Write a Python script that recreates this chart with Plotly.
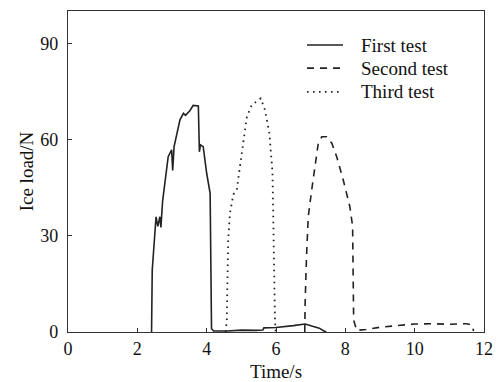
import plotly.graph_objects as go

# Data
first_t = [2.41, 2.43, 2.54, 2.59, 2.65, 2.68, 2.73, 2.85, 2.89, 2.99, 3.02, 3.06, 3.13, 3.23,
           3.33, 3.39, 3.52, 3.61, 3.76, 3.79, 3.82, 3.90, 4.00, 4.10, 4.14, 4.20, 4.60, 5.00,
           5.40, 5.62, 5.65, 6.00, 6.50, 6.84, 7.08, 7.25, 7.37, 7.45]
first_v = [0, 19.4, 36, 33, 36, 32.7, 41, 50.6, 54.8, 56.9, 50.5, 57.9, 61, 66.3,
           68.3, 67.7, 69.2, 70.8, 70.6, 56.3, 58.5, 57.9, 49.6, 43.3, 1.0, 0.3, 0.3, 0.6,
           0.5, 0.6, 1.3, 1.4, 2.0, 2.5, 1.7, 1.2, 0.4, 0]

second_t = [6.83, 6.84, 6.88, 6.93, 7.03, 7.12, 7.22, 7.32, 7.46, 7.61, 7.75, 7.94, 8.13,
            8.21, 8.22, 8.24, 8.33, 8.60, 9.00, 9.50, 10.00, 10.50, 11.00, 11.50, 11.65, 11.70]
second_v = [0, 9, 23.5, 36, 44.4, 51.7, 59, 61, 61, 59, 54.8, 47.5, 39.2,
            33, 21, 3.7, 0.5, 0.8, 1.5, 2.0, 2.5, 2.6, 2.4, 2.6, 2.2, 0.3]

third_t = [4.55, 4.58, 4.62, 4.67, 4.77, 4.87, 4.96, 5.06, 5.16, 5.30, 5.45, 5.56, 5.68,
           5.81, 5.90, 5.92, 5.94, 5.97, 5.99]
third_v = [0, 3.7, 28.7, 37, 43, 44.4, 51.7, 59, 67.3, 70.9, 72, 73, 69.4,
           62.1, 49.6, 34, 18.8, 3.7, 0]

series_names = ["First test", "Second test", "Third test"]
x_ticks = [0, 2, 4, 6, 8, 10, 12]
y_ticks = [0, 30, 60, 90]

ink = "#222222"
font_family = "Liberation Serif, Times New Roman, serif"
dashes = ["solid", "7px,6px", "1.6px,4.4px"]
widths = [1.6, 1.6, 1.8]

fig = go.Figure()
for t, v, name, dash, w in zip([first_t, second_t, third_t], [first_v, second_v, third_v],
                               series_names, dashes, widths):
    fig.add_trace(go.Scatter(x=t, y=v, mode="lines", name=name, showlegend=False,
                             line=dict(color=ink, width=w, dash=dash)))

# Hand-drawn legend (tighter row spacing than plotly's built-in legend)
legend_rows_y = [0.894, 0.822, 0.748]
for name, dash, w, ly in zip(series_names, dashes, widths, legend_rows_y):
    fig.add_shape(type="line", xref="paper", yref="paper", x0=0.5745, x1=0.661, y0=ly, y1=ly,
                  line=dict(color=ink, width=w, dash=dash))
    fig.add_annotation(xref="paper", yref="paper", x=0.700, y=ly, text=name, showarrow=False,
                       xanchor="left", yanchor="middle",
                       font=dict(family=font_family, size=19, color="#111111"))

axis_common = dict(showline=True, mirror=True, linecolor="#333333", linewidth=1.3,
                   ticks="inside", ticklen=4, tickwidth=1.2, tickcolor="#333333",
                   showgrid=False, zeroline=False, automargin=False,
                   tickfont=dict(family=font_family, size=18, color="#111111"))

fig.update_layout(
    width=496, height=382,
    margin=dict(l=68, r=12, t=11, b=50),
    paper_bgcolor="white", plot_bgcolor="white",
    font=dict(family=font_family, size=18, color="#111111"),
    showlegend=False,
    xaxis=dict(range=[0, 12], tickvals=x_ticks, ticktext=[str(v) for v in x_ticks],
               title=dict(text="Time/s", standoff=6,
                          font=dict(family=font_family, size=19, color="#111111")),
               **axis_common),
    yaxis=dict(range=[0, 100.3], tickvals=y_ticks, ticktext=[str(v) for v in y_ticks],
               ticklabelstandoff=5,
               title=dict(text="Ice load/N", standoff=1,
                          font=dict(family=font_family, size=19, color="#111111")),
               **axis_common),
)

fig.write_html("out.html")
